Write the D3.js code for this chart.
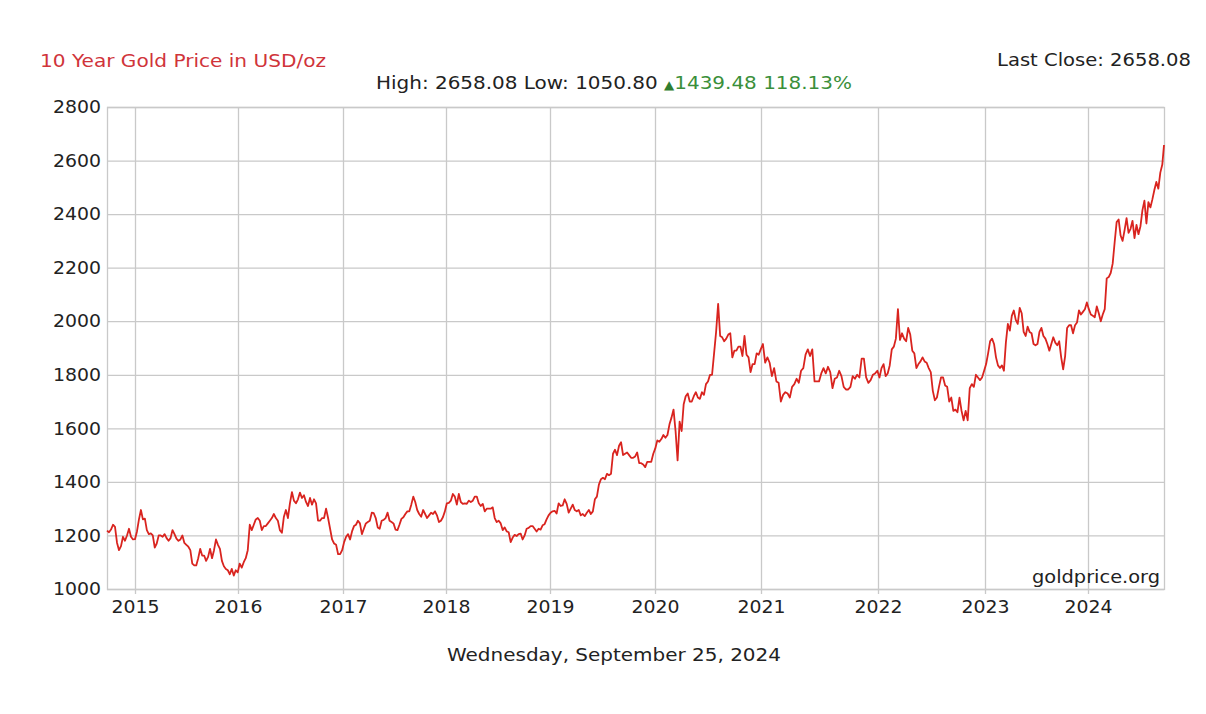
<!DOCTYPE html>
<html><head><meta charset="utf-8">
<script src="https://cdn.jsdelivr.net/npm/d3@7"></script>
<style>
html,body{margin:0;padding:0;background:#fff;}
svg text{font-family:"DejaVu Sans",Verdana,sans-serif;}
</style></head>
<body>
<svg id="chart" width="1206" height="714"></svg>
<script>
// ---- data: weekly closes (USD/oz), each array starts at its date in weekStarts ----
const weekStarts = ["2014-09-25","2015-01-01","2016-01-07","2017-01-05","2018-01-04","2019-01-03","2020-01-02","2021-01-07","2022-01-06","2023-01-05","2024-01-04"];
const w2014 = [1218,1212,1222,1240,1232,1173,1145,1160,1195,1180,1200,1225,1195,1185];
const w2015 = [1186,1215,1260,1295,1260,1263,1220,1205,1208,1200,1155,1170,1200,1200,1195,1205,1190,1180,1190,1220,1205,1188,1180,1185,1200,1172,1165,1158,1145,1095,1088,1088,1115,1150,1125,1125,1105,1120,1150,1115,1145,1185,1165,1150,1105,1085,1075,1070,1055,1075,1050,1070,1062];
const w2016 = [1095,1080,1100,1115,1145,1240,1220,1240,1260,1265,1255,1220,1235,1235,1245,1255,1265,1280,1265,1255,1220,1210,1270,1295,1265,1320,1362,1330,1320,1335,1360,1340,1350,1325,1310,1340,1315,1335,1320,1255,1255,1265,1265,1300,1265,1225,1185,1170,1165,1130,1130,1145];
const w2017 = [1175,1195,1205,1185,1215,1235,1240,1255,1245,1205,1225,1245,1250,1255,1285,1283,1265,1230,1225,1255,1258,1265,1285,1255,1250,1245,1222,1220,1240,1262,1268,1280,1290,1290,1315,1345,1325,1295,1280,1270,1295,1280,1265,1275,1285,1280,1290,1275,1250,1255,1268,1290];
const w2018 = [1320,1322,1330,1355,1345,1315,1355,1325,1318,1320,1318,1330,1325,1330,1345,1345,1320,1310,1318,1290,1300,1300,1300,1305,1265,1250,1255,1245,1220,1230,1215,1212,1175,1192,1202,1198,1205,1207,1185,1200,1225,1228,1235,1235,1225,1215,1225,1222,1238,1242,1260,1275];
const w2019 = [1285,1290,1292,1282,1320,1310,1312,1335,1318,1285,1300,1315,1295,1290,1295,1275,1280,1272,1285,1295,1280,1290,1335,1345,1390,1410,1415,1410,1430,1425,1430,1505,1520,1500,1535,1548,1500,1505,1510,1500,1490,1490,1495,1510,1470,1470,1465,1455,1475,1475,1475,1505];
const w2020 = [1525,1555,1550,1560,1575,1565,1575,1615,1640,1670,1590,1480,1625,1590,1690,1720,1730,1700,1700,1720,1735,1715,1710,1735,1725,1765,1775,1800,1800,1880,1960,2065,1945,1940,1925,1935,1950,1955,1865,1890,1890,1905,1905,1870,1945,1875,1865,1810,1840,1840,1880,1875,1895];
const w2021 = [1915,1845,1865,1845,1795,1825,1775,1770,1700,1725,1735,1730,1715,1755,1765,1785,1770,1815,1825,1875,1895,1870,1895,1775,1775,1775,1805,1825,1805,1830,1810,1750,1785,1790,1815,1795,1755,1745,1745,1755,1795,1785,1800,1790,1860,1860,1790,1770,1780,1800,1805,1815];
const w2022 = [1790,1825,1840,1795,1805,1835,1895,1905,1935,2045,1930,1955,1935,1925,1975,1950,1890,1880,1825,1840,1850,1865,1850,1845,1825,1810,1740,1705,1715,1755,1790,1790,1760,1755,1700,1715,1665,1670,1660,1715,1665,1630,1665,1630,1750,1765,1755,1800,1790,1780,1790,1815];
const w2023 = [1840,1880,1925,1935,1915,1865,1835,1825,1835,1815,1920,1990,1965,2020,2040,2005,1990,2050,2030,1960,1945,1980,1960,1955,1915,1910,1915,1960,1975,1945,1935,1915,1890,1915,1940,1920,1910,1925,1865,1820,1870,1975,1985,1985,1955,1985,1995,2040,2025,2035,2045,2070];
const w2024 = [2045,2025,2020,2015,2055,2030,2000,2025,2045,2160,2165,2180,2215,2295,2370,2380,2320,2300,2340,2385,2330,2345,2375,2310,2360,2325,2355,2415,2450,2365,2445,2425,2455,2490,2520,2495,2555,2585];
const lastCloseDate = "2024-09-25";
const lastClose = 2658.08;
const highValue = 2658.08, lowValue = 1050.80, changeValue = 1439.48, changePct = 118.13;

const yTicks = [1000,1200,1400,1600,1800,2000,2200,2400,2600,2800];
const xTickYears = ["2015","2016","2017","2018","2019","2020","2021","2022","2023","2024"];
const chartTitle = "10 Year Gold Price in USD/oz";
const dateLabel = "Wednesday, September 25, 2024";
const sourceLabel = "goldprice.org";

// ---- build series ----
const parse = d3.timeParse("%Y-%m-%d");
const yearly = [w2014,w2015,w2016,w2017,w2018,w2019,w2020,w2021,w2022,w2023,w2024];
const series = [];
yearly.forEach((arr, k) => {
  const s = parse(weekStarts[k]);
  arr.forEach((v, i) => series.push({date: d3.timeDay.offset(s, i * 7), value: v}));
});
series.push({date: parse(lastCloseDate), value: lastClose});

// ---- layout ----
const L = 107, R = 1164, T = 107, B = 589;
const svg = d3.select("#chart");

const yearDates = xTickYears.map(y => parse(y + "-01-01"));
const x = d3.scaleTime()
  .domain([parse(weekStarts[0]), ...yearDates, parse(lastCloseDate)])
  .range([L, 135, 238, 343, 446, 550, 655, 761, 878, 985, 1088, R]);
const y = d3.scaleLinear().domain([1000, 2800]).range([B, T]);

const grid = "#c9c9c9";
svg.append("g").selectAll("line").data(yTicks).join("line")
  .attr("x1", L).attr("x2", R)
  .attr("y1", d => y(d) + 0.5).attr("y2", d => y(d) + 0.5)
  .attr("stroke", grid).attr("stroke-width", 1.3);
svg.append("g").selectAll("line").data(yearDates).join("line")
  .attr("x1", d => Math.round(x(d)) + 0.5).attr("x2", d => Math.round(x(d)) + 0.5)
  .attr("y1", T).attr("y2", B + 5)
  .attr("stroke", grid).attr("stroke-width", 1.3);
svg.append("rect").attr("x", L + 0.5).attr("y", T + 0.5)
  .attr("width", R - L).attr("height", B - T)
  .attr("fill", "none").attr("stroke", grid).attr("stroke-width", 1.3);

const FF = '"DejaVu Sans",Verdana,sans-serif';
const yAxis = d3.axisLeft(y).tickValues(yTicks).tickSize(0).tickPadding(6).tickFormat(d3.format("d"));
const gy = svg.append("g").attr("transform", `translate(${L},0)`).call(yAxis);
gy.select(".domain").remove();
gy.selectAll("text").attr("font-size", 18).attr("fill", "#222").attr("font-family", FF)
  .attr("textLength", 48).attr("lengthAdjust", "spacingAndGlyphs");

const xAxis = d3.axisBottom(x).tickValues(yearDates).tickSize(0).tickPadding(11).tickFormat((d, i) => xTickYears[i]);
const gx = svg.append("g").attr("transform", `translate(0,${B})`).call(xAxis);
gx.select(".domain").remove();
gx.selectAll("text").attr("font-size", 18).attr("fill", "#222").attr("font-family", FF)
  .attr("textLength", 48).attr("lengthAdjust", "spacingAndGlyphs");

const line = d3.line().x(d => x(d.date)).y(d => y(d.value));
svg.append("path").datum(series)
  .attr("d", line).attr("fill", "none")
  .attr("stroke", "#d9241f").attr("stroke-width", 1.8).attr("stroke-linejoin", "round");

function fit(sel, len) { return sel.attr("textLength", len).attr("lengthAdjust", "spacingAndGlyphs"); }

fit(svg.append("text").attr("x", 40).attr("y", 67).attr("font-size", 18).attr("fill", "#d0343a").text(chartTitle), 286);
fit(svg.append("text").attr("x", 1191).attr("y", 66).attr("font-size", 18).attr("fill", "#222")
  .attr("text-anchor", "end").text("Last Close: " + lastClose.toFixed(2)), 194);

const hl = svg.append("text").attr("x", 614).attr("y", 89).attr("font-size", 18).attr("text-anchor", "middle").attr("fill", "#222");
hl.append("tspan").text(`High: ${highValue.toFixed(2)} Low: ${lowValue.toFixed(2)} `);
hl.append("tspan").attr("fill", "#2f7d2f").attr("font-size", 12).text("▲");
hl.append("tspan").attr("fill", "#3a8f3a").text(`${changeValue.toFixed(2)} ${changePct.toFixed(2)}%`);
fit(hl, 476);

fit(svg.append("text").attr("x", 1160).attr("y", 583).attr("font-size", 18).attr("fill", "#222")
  .attr("text-anchor", "end").text(sourceLabel), 128);
fit(svg.append("text").attr("x", 614).attr("y", 661).attr("font-size", 18).attr("fill", "#222")
  .attr("text-anchor", "middle").text(dateLabel), 334);
</script>
</body></html>
